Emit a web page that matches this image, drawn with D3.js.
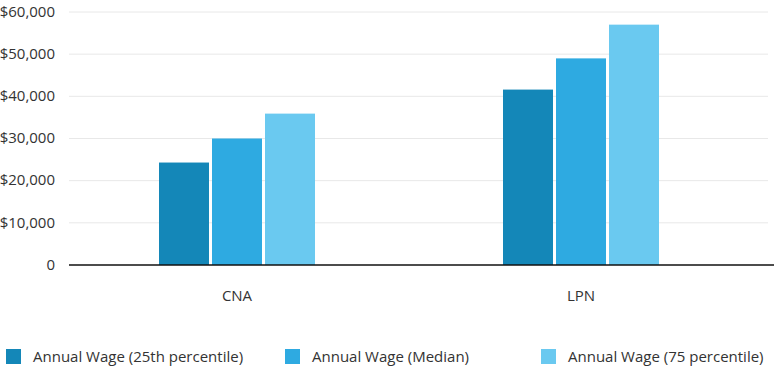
<!DOCTYPE html>
<html><head><meta charset="utf-8">
<script src="https://cdn.jsdelivr.net/npm/d3@7"></script>
<style>body{margin:0;background:#fff;font-family:"Open Sans",sans-serif;}</style>
</head><body><svg id="c" width="774" height="367"></svg>
<script>
const categories = ["CNA", "LPN"];
const seriesNames = ["Annual Wage (25th percentile)", "Annual Wage (Median)", "Annual Wage (75 percentile)"];
const wage25 = [24300, 41600];
const wageMedian = [30000, 49000];
const wage75 = [35900, 57000];
const yTicks = [0, 10000, 20000, 30000, 40000, 50000, 60000];
const colors = ["#1487b8", "#2eaae1", "#6ac9f0"];

const svg = d3.select("#c");
const y = d3.scaleLinear().domain([0, 60000]).range([265, 12]);
const x = d3.scaleBand().domain(categories).range([65, 753]);
const xi = d3.scaleBand().domain(seriesNames).range([-78, 78]).paddingInner(3/53);
const fmt = v => v === 0 ? "0" : "$" + d3.format(",")(v);

svg.append("g").selectAll("line").data(yTicks.filter(t => t > 0)).join("line")
  .attr("x1", 69).attr("x2", 768).attr("y1", d => y(d)).attr("y2", d => y(d))
  .attr("stroke", "#e8e8e8").attr("stroke-width", 1);
svg.append("g").selectAll("text").data(yTicks).join("text")
  .attr("x", 55).attr("y", d => y(d)).attr("dy", "0.32em").attr("text-anchor", "end")
  .attr("font-size", 15).attr("fill", "#333").text(fmt);

const data = [wage25, wageMedian, wage75];
categories.forEach((c, ci) => {
  seriesNames.forEach((s, si) => {
    svg.append("rect")
      .attr("x", x(c) + x.bandwidth()/2 + xi(s)).attr("width", xi.bandwidth())
      .attr("y", y(data[si][ci])).attr("height", y(0) - y(data[si][ci]))
      .attr("fill", colors[si]);
  });
});
svg.append("line").attr("x1", 69).attr("x2", 774).attr("y1", y(0)).attr("y2", y(0))
  .attr("stroke", "#111").attr("stroke-width", 1.5);
svg.append("g").selectAll("text").data(categories).join("text")
  .attr("x", d => x(d) + x.bandwidth()/2).attr("y", 301).attr("text-anchor", "middle")
  .attr("font-size", 15).attr("fill", "#333").text(d => d);

const legX = [6, 285, 541];
seriesNames.forEach((s, i) => {
  svg.append("rect").attr("x", legX[i]).attr("y", 349).attr("width", 15).attr("height", 15).attr("fill", colors[i]);
  svg.append("text").attr("x", legX[i] + 27).attr("y", 362).attr("font-size", 15).attr("fill", "#333").text(s);
});
</script></body></html>
